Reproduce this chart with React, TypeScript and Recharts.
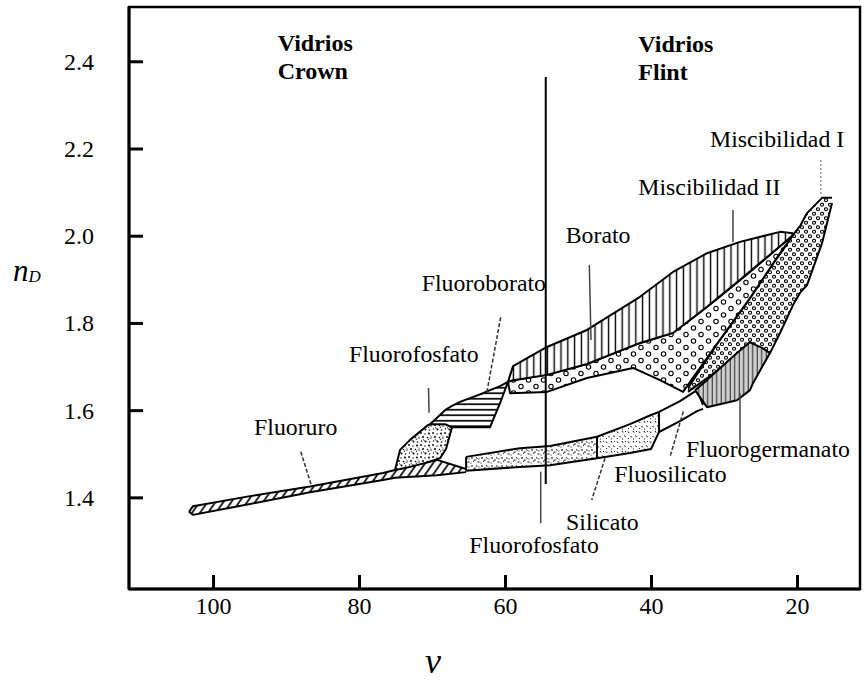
import React from 'react';
import { ComposedChart, XAxis, YAxis, Area, Scatter, ReferenceLine, ReferenceArea } from 'recharts';

const V_DOMAIN: [number, number] = [11.44, 111.58];
const N_DOMAIN: [number, number] = [1.191, 2.5256];
const V_TICKS = [100, 80, 60, 40, 20];
const N_TICKS = [1.4, 1.6, 1.8, 2.0, 2.2, 2.4];

// Regions: v = Abbe number, n = [lower nD, upper nD]
const fluoruro = [
  { v: 103.36, n: [1.368, 1.368] },
  { v: 102.81, n: [1.361, 1.381] },
  { v: 95.0, n: [1.386, 1.404] },
  { v: 86.78, n: [1.413, 1.426] },
  { v: 76.78, n: [1.441, 1.457] },
  { v: 75.14, n: [1.446, 1.464] },
  { v: 69.38, n: [1.452, 1.487] },
  { v: 65.4, n: [1.459, 1.466] },
];
const fluorofosfatoCrown = [
  { v: 75.14, n: [1.464, 1.464] },
  { v: 74.45, n: [1.466, 1.51] },
  { v: 73.08, n: [1.471, 1.533] },
  { v: 70.62, n: [1.482, 1.567] },
  { v: 68.97, n: [1.491, 1.574] },
  { v: 68.15, n: [1.512, 1.569] },
  { v: 67.33, n: [1.562, 1.562] },
];
const fluoroborato = [
  { v: 70.34, n: [1.569, 1.569] },
  { v: 68.29, n: [1.569, 1.601] },
  { v: 67.33, n: [1.562, 1.611] },
  { v: 66.23, n: [1.562, 1.62] },
  { v: 63.08, n: [1.562, 1.64] },
  { v: 62.12, n: [1.562, 1.647] },
  { v: 60.75, n: [1.617, 1.656] },
  { v: 59.66, n: [1.666, 1.666] },
];
const fluorofosfatoLow = [
  { v: 65.4, n: [1.462, 1.494] },
  { v: 58.01, n: [1.471, 1.514] },
  { v: 53.9, n: [1.475, 1.519] },
  { v: 47.47, n: [1.491, 1.54] },
];
const silicato = [
  { v: 47.47, n: [1.491, 1.54] },
  { v: 42.95, n: [1.503, 1.569] },
  { v: 40.07, n: [1.512, 1.59] },
  { v: 38.97, n: [1.551, 1.597] },
];
const fluosilicato = [
  { v: 38.97, n: [1.551, 1.597] },
  { v: 36.1, n: [1.576, 1.622] },
  { v: 33.77, n: [1.599, 1.647] },
  { v: 32.95, n: [1.604, 1.613] },
];
const fluorogermanato = [
  { v: 34.04, n: [1.647, 1.647] },
  { v: 32.4, n: [1.608, 1.67] },
  { v: 28.29, n: [1.624, 1.732] },
  { v: 26.51, n: [1.647, 1.757] },
  { v: 26.1, n: [1.663, 1.753] },
  { v: 24.86, n: [1.7, 1.744] },
  { v: 23.77, n: [1.732, 1.732] },
];
const miscibilidadI = [
  { v: 35.0, n: [1.643, 1.652] },
  { v: 31.03, n: [1.691, 1.753] },
  { v: 26.51, n: [1.757, 1.858] },
  { v: 23.77, n: [1.732, 1.927] },
  { v: 22.4, n: [1.778, 1.959] },
  { v: 20.62, n: [1.842, 2.003] },
  { v: 19.66, n: [1.87, 2.023] },
  { v: 18.7, n: [1.888, 2.053] },
  { v: 16.64, n: [1.984, 2.088] },
  { v: 15.27, n: [2.076, 2.088] },
];
const miscibilidadII = [
  { v: 59.66, n: [1.666, 1.666] },
  { v: 59.38, n: [1.64, 1.668] },
  { v: 54.32, n: [1.643, 1.682] },
  { v: 48.84, n: [1.675, 1.707] },
  { v: 42.53, n: [1.698, 1.75] },
  { v: 38.84, n: [1.67, 1.769] },
  { v: 35.68, n: [1.643, 1.796] },
  { v: 31.03, n: [1.753, 1.856] },
  { v: 26.51, n: [1.858, 1.918] },
  { v: 22.4, n: [1.961, 1.977] },
  { v: 20.62, n: [2.003, 2.003] },
];
const borato = [
  { v: 59.66, n: [1.666, 1.666] },
  { v: 58.97, n: [1.67, 1.702] },
  { v: 54.32, n: [1.682, 1.746] },
  { v: 48.84, n: [1.707, 1.785] },
  { v: 41.58, n: [1.755, 1.861] },
  { v: 37.05, n: [1.778, 1.918] },
  { v: 32.4, n: [1.838, 1.961] },
  { v: 27.88, n: [1.9, 1.987] },
  { v: 22.4, n: [1.977, 2.01] },
  { v: 20.62, n: [2.003, 2.007] },
];

// Region labels (left end of text, baseline)
const regionLabels = [
  { text: 'Miscibilidad I', v: 31.99, n: 2.205 },
  { text: 'Miscibilidad II', v: 41.81, n: 2.094 },
  { text: 'Borato', v: 51.75, n: 1.985 },
  { text: 'Fluoroborato', v: 71.48, n: 1.874 },
  { text: 'Fluorofosfato', v: 81.44, n: 1.712 },
  { text: 'Fluoruro', v: 94.45, n: 1.544 },
  { text: 'Fluorofosfato', v: 64.96, n: 1.273 },
  { text: 'Silicato', v: 51.71, n: 1.326 },
  { text: 'Fluosilicato', v: 45.1, n: 1.437 },
  { text: 'Fluorogermanato', v: 35.27, n: 1.493 },
];
const headerLabels = [
  { line1: 'Vidrios', line2: 'Crown', v: 91.21, n: 2.425 },
  { line1: 'Vidrios', line2: 'Flint', v: 41.81, n: 2.423 },
];

// Leader lines
const solidLeaders = [
  { v1: 28.84, n1: 2.06, v2: 28.84, n2: 1.987 },
  { v1: 48.52, n1: 1.934, v2: 48.29, n2: 1.762 },
  { v1: 70.55, n1: 1.652, v2: 70.48, n2: 1.595 },
  { v1: 55.18, n1: 1.46, v2: 55.18, n2: 1.342 },
  { v1: 27.88, n1: 1.64, v2: 27.88, n2: 1.514 },
];
const dashedLeaders = [
  { v1: 60.66, n1: 1.814, v2: 62.58, n2: 1.64 },
  { v1: 88.05, n1: 1.506, v2: 86.55, n2: 1.426 },
  { v1: 46.37, n1: 1.491, v2: 48.19, n2: 1.395 },
  { v1: 35.64, n1: 1.598, v2: 37.47, n2: 1.494 },
];
const dottedLeaders = [
  { v1: 16.82, n1: 2.175, v2: 16.82, n2: 2.092 },
];
const dividers = [
  { v1: 54.49, n1: 2.365, v2: 54.49, n2: 1.432 },
];
const separators = [
  { v1: 47.47, n1: 1.491, v2: 47.47, n2: 1.54 },
  { v1: 38.97, n1: 1.551, v2: 38.97, n2: 1.597 },
  { v1: 65.4, n1: 1.462, v2: 65.4, n2: 1.494 },
];

// anchor points for the inward tick marks (on the left and bottom frame)
const yTickMarks = N_TICKS.map((t) => ({ v: V_DOMAIN[1], n: t }));
const xTickMarks = V_TICKS.map((t) => ({ v: t, n: N_DOMAIN[0] }));

const SERIF = '"Liberation Serif", "Times New Roman", serif';

const YTick = (props: any) => (
  <text x={Number(props.x)} y={Number(props.y)} textAnchor="end" dominantBaseline="central" fontFamily={SERIF} fontSize={24} fill="#000">
    {Number(props.payload.value).toFixed(1)}
  </text>
);

const XTick = (props: any) => (
  <text x={Number(props.x)} y={Number(props.y)} textAnchor="middle" dominantBaseline="central" fontFamily={SERIF} fontSize={24} fill="#000">
    {props.payload.value}
  </text>
);

const YTickMark = (props: any) => (
  <line x1={props.cx} x2={props.cx + 14} y1={props.cy} y2={props.cy} stroke="#000" strokeWidth={3} />
);
const XTickMark = (props: any) => (
  <line x1={props.cx} x2={props.cx} y1={props.cy} y2={props.cy - 14} stroke="#000" strokeWidth={3} />
);

const XTitle = (props: any) => {
  const vb = props.viewBox || { x: 129, y: 589 };
  return (
    <text x={vb.x + 304} y={vb.y + 84} textAnchor="middle" fontFamily={SERIF} fontStyle="italic" fontSize={36} fill="#000">
      v
    </text>
  );
};

const YTitle = (props: any) => {
  const vb = props.viewBox || { x: 0, y: 7, width: 129 };
  return (
    <text x={vb.x + (vb.width || 129) - 116} y={vb.y + 274} fontFamily={SERIF} fill="#000">
      <tspan fontStyle="italic" fontSize={31}>n</tspan>
      <tspan fontStyle="italic" fontSize={17} dy={1}>D</tspan>
    </text>
  );
};

const RegionText = (props: any) => {
  const { cx, cy, payload } = props;
  return (
    <text x={cx} y={cy} fontFamily={SERIF} fontSize={23.8} fill="#000">
      {payload.text}
    </text>
  );
};

const HeaderText = (props: any) => {
  const { cx, cy, payload } = props;
  return (
    <text x={cx} y={cy} fontFamily={SERIF} fontWeight="bold" fontSize={24} fill="#000">
      <tspan x={cx}>{payload.line1}</tspan>
      <tspan x={cx} dy={28.5}>{payload.line2}</tspan>
    </text>
  );
};

const regionProps = {
  type: 'linear' as const,
  dataKey: 'n',
  stroke: '#000',
  strokeWidth: 2,
  fillOpacity: 1,
  dot: false,
  activeDot: false,
  isAnimationActive: false,
  strokeLinejoin: 'round' as const,
};

export default function App() {
  return (
    <div style={{ position: 'absolute', left: 0, top: 0, width: 867, height: 688, background: '#fff' }}>
      <ComposedChart width={867} height={688} margin={{ top: 7, right: 7, bottom: 0, left: 0 }}>
        <defs>
          <pattern id="pDiag" patternUnits="userSpaceOnUse" width="6.5" height="6.5" patternTransform="rotate(35)">
            <rect width="6.5" height="6.5" fill="#fff" />
            <line x1="3" y1="0" x2="3" y2="6.5" stroke="#000" strokeWidth="1.7" />
          </pattern>
          <pattern id="pHoriz" patternUnits="userSpaceOnUse" width="8" height="5.5">
            <rect width="8" height="5.5" fill="#fff" />
            <line x1="0" y1="2.75" x2="8" y2="2.75" stroke="#000" strokeWidth="1.7" />
          </pattern>
          <pattern id="pVert" patternUnits="userSpaceOnUse" width="6.8" height="8">
            <rect width="6.8" height="8" fill="#fff" />
            <line x1="3.4" y1="0" x2="3.4" y2="8" stroke="#000" strokeWidth="1.4" />
          </pattern>
          <pattern id="pCircBig" patternUnits="userSpaceOnUse" width="15" height="13">
            <rect width="15" height="13" fill="#fff" />
            <circle cx="3.5" cy="3" r="2.2" fill="none" stroke="#000" strokeWidth="1.1" />
            <circle cx="11" cy="9.5" r="2.2" fill="none" stroke="#000" strokeWidth="1.1" />
          </pattern>
          <pattern id="pCircSmall" patternUnits="userSpaceOnUse" width="8" height="9">
            <rect width="8" height="9" fill="#fff" />
            <circle cx="2" cy="2.2" r="1.5" fill="none" stroke="#000" strokeWidth="1.1" />
            <circle cx="6" cy="6.7" r="1.5" fill="none" stroke="#000" strokeWidth="1.1" />
          </pattern>
          <pattern id="pStipple" patternUnits="userSpaceOnUse" width="12" height="12">
            <rect width="12" height="12" fill="#fff" />
            <circle cx="1" cy="1" r="0.9" fill="#000" />
            <circle cx="5" cy="2" r="0.7" fill="#000" />
            <circle cx="9" cy="1.5" r="1" fill="#000" />
            <circle cx="3" cy="5" r="1" fill="#000" />
            <circle cx="7.5" cy="5.5" r="0.8" fill="#000" />
            <circle cx="11" cy="6" r="0.7" fill="#000" />
            <circle cx="1.5" cy="9" r="0.7" fill="#000" />
            <circle cx="5.5" cy="9.5" r="1" fill="#000" />
            <circle cx="9.5" cy="10" r="0.8" fill="#000" />
            <path d="M3 7.5 l1.5 1 M8 8 l1 -1.5 M10 3.5 l1 1" stroke="#000" strokeWidth="0.9" />
          </pattern>
          <pattern id="pStippleFine" patternUnits="userSpaceOnUse" width="10" height="8">
            <rect width="10" height="8" fill="#fff" />
            <path d="M1 2 l2 0 M6 1.5 l1.5 1 M3 5.5 l1.5 -1 M7.5 6 l2 0" stroke="#000" strokeWidth="1" />
            <circle cx="5" cy="4" r="0.7" fill="#000" />
            <circle cx="9" cy="3" r="0.6" fill="#000" />
            <circle cx="1" cy="7" r="0.6" fill="#000" />
          </pattern>
          <pattern id="pSilicato" patternUnits="userSpaceOnUse" width="11" height="10">
            <rect width="11" height="10" fill="#fff" />
            <path d="M1 1.5 l1.2 1.5 M6 1 l1 1.6 M3.5 6 l1.2 1.4 M8.5 5.5 l1 1.6" stroke="#000" strokeWidth="1" />
            <circle cx="9.5" cy="1.5" r="0.6" fill="#000" />
            <circle cx="1.5" cy="8.5" r="0.6" fill="#000" />
            <circle cx="6.5" cy="9" r="0.6" fill="#000" />
          </pattern>
          <pattern id="pGerm" patternUnits="userSpaceOnUse" width="4.5" height="8">
            <rect width="4.5" height="8" fill="#cfcfcf" />
            <line x1="1.2" y1="0" x2="1.2" y2="8" stroke="#222" strokeWidth="1" />
          </pattern>
        </defs>

        <XAxis
          dataKey="v"
          type="number"
          domain={V_DOMAIN}
          ticks={V_TICKS}
          reversed
          allowDataOverflow
          height={99}
          tickSize={0}
          tickMargin={17}
          tickLine={false}
          axisLine={{ stroke: '#000', strokeWidth: 3 }}
          tick={<XTick />}
          interval={0}
          label={<XTitle />}
        />
        <YAxis
          type="number"
          domain={N_DOMAIN}
          ticks={N_TICKS}
          allowDataOverflow
          width={129}
          tickSize={0}
          tickMargin={35}
          tickLine={false}
          axisLine={{ stroke: '#000', strokeWidth: 3 }}
          tick={<YTick />}
          interval={0}
          label={<YTitle />}
        />

        <ReferenceArea
          x1={V_DOMAIN[0]}
          x2={V_DOMAIN[1]}
          y1={N_DOMAIN[0]}
          y2={N_DOMAIN[1]}
          fill="none"
          stroke="#000"
          strokeWidth={2.5}
          ifOverflow="visible"
        />

        <Area {...regionProps} data={fluoruro} fill="url(#pDiag)" />
        <Area {...regionProps} data={fluorofosfatoCrown} fill="url(#pStipple)" />
        <Area {...regionProps} data={fluoroborato} fill="url(#pHoriz)" />
        <Area {...regionProps} data={fluorofosfatoLow} fill="url(#pStippleFine)" />
        <Area {...regionProps} data={silicato} fill="url(#pSilicato)" />
        <Area {...regionProps} data={fluosilicato} fill="#fff" />
        <Area {...regionProps} data={miscibilidadI} fill="url(#pCircSmall)" />
        <Area {...regionProps} data={fluorogermanato} fill="url(#pGerm)" />
        <Area {...regionProps} data={miscibilidadII} fill="url(#pCircBig)" />
        <Area {...regionProps} data={borato} fill="url(#pVert)" />

        {separators.map((s, i) => (
          <ReferenceLine key={'sep' + i} segment={[{ x: s.v1, y: s.n1 }, { x: s.v2, y: s.n2 }]} stroke="#000" strokeWidth={2} ifOverflow="visible" />
        ))}
        {solidLeaders.map((s, i) => (
          <ReferenceLine key={'sl' + i} segment={[{ x: s.v1, y: s.n1 }, { x: s.v2, y: s.n2 }]} stroke="#444" strokeWidth={1.5} ifOverflow="visible" />
        ))}
        {dashedLeaders.map((s, i) => (
          <ReferenceLine key={'dl' + i} segment={[{ x: s.v1, y: s.n1 }, { x: s.v2, y: s.n2 }]} stroke="#333" strokeWidth={1.5} strokeDasharray="4 2" ifOverflow="visible" />
        ))}
        {dottedLeaders.map((s, i) => (
          <ReferenceLine key={'dt' + i} segment={[{ x: s.v1, y: s.n1 }, { x: s.v2, y: s.n2 }]} stroke="#999" strokeWidth={1.5} strokeDasharray="2 2" ifOverflow="visible" />
        ))}
        {dividers.map((s, i) => (
          <ReferenceLine key={'dv' + i} segment={[{ x: s.v1, y: s.n1 }, { x: s.v2, y: s.n2 }]} stroke="#000" strokeWidth={2} ifOverflow="visible" />
        ))}

        <Scatter data={yTickMarks} dataKey="n" isAnimationActive={false} shape={<YTickMark />} />
        <Scatter data={xTickMarks} dataKey="n" isAnimationActive={false} shape={<XTickMark />} />
        <Scatter data={regionLabels} dataKey="n" isAnimationActive={false} shape={<RegionText />} />
        <Scatter data={headerLabels} dataKey="n" isAnimationActive={false} shape={<HeaderText />} />
      </ComposedChart>
    </div>
  );
}
